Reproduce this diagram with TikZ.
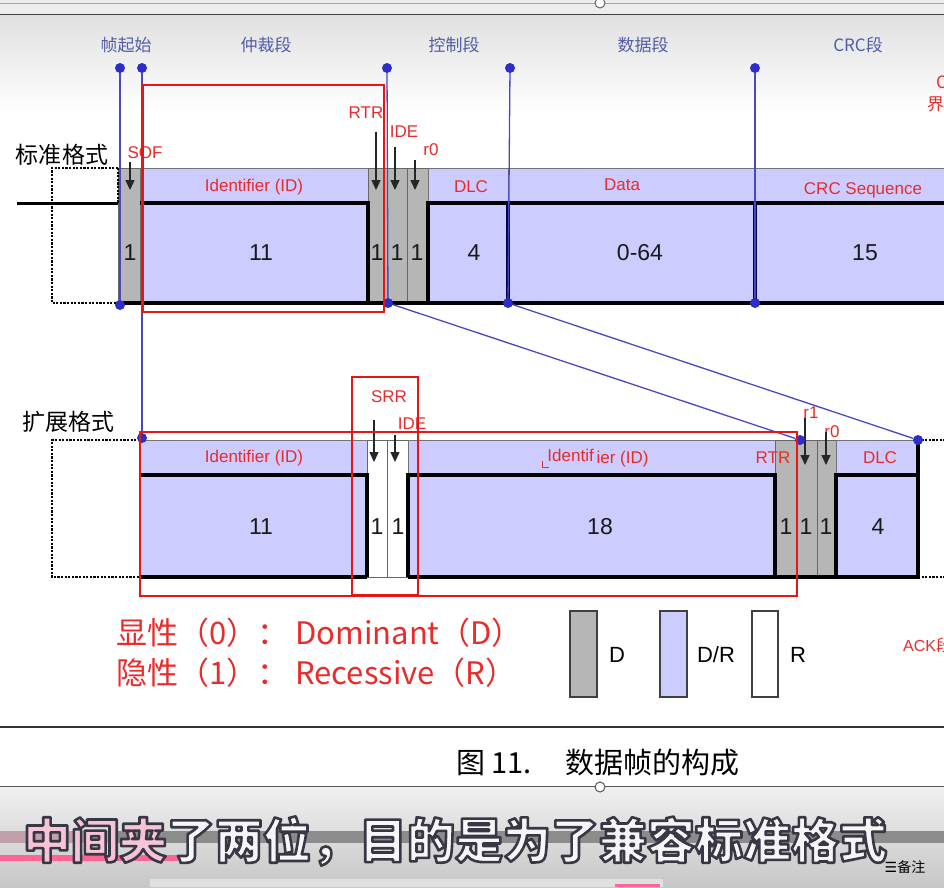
\documentclass[tikz,border=0pt]{standalone}
\usepackage{fontspec}
\setmainfont{Liberation Sans}
\newfontfamily\cjk{Noto Sans CJK SC}
\newfontfamily\djv{DejaVu Sans}
\usetikzlibrary{arrows.meta}
\newcommand\myfs[1]{\fontsize{#1}{#1}\selectfont}
\newcommand\strk{\special{pdf:literal direct 0.22 0.22 0.27 RG 2.6 w 1 j 2 Tr}}
\newcommand\unstrk{\special{pdf:literal direct 0 Tr}}
\definecolor{cellblue}{RGB}{204,204,255}
\definecolor{cellgray}{RGB}{182,182,182}
\definecolor{lineblue}{RGB}{72,72,196}
\definecolor{dotblue}{RGB}{45,45,200}
\definecolor{redtxt}{RGB}{232,44,44}
\definecolor{redbox}{RGB}{230,22,22}
\definecolor{seclbl}{RGB}{82,92,168}
\definecolor{subwhite}{RGB}{246,246,248}
\definecolor{subpink}{RGB}{246,196,214}
\definecolor{pinkbar}{RGB}{255,100,150}
\tikzset{
 cellb/.style={fill=cellblue, draw=black!55, line width=0.7pt},
 cellg/.style={fill=cellgray, draw=black!60, line width=0.7pt},
 cellw/.style={fill=white, draw=black!60, line width=0.7pt},
 wave/.style={line width=3.6pt, draw=black},
 navy/.style={line width=3.4pt, draw=black!70!blue},
 dotbox/.style={line width=2.8pt, draw=black, dash pattern=on 2.2pt off 1.4pt},
 bline/.style={draw=lineblue, line width=1.3pt},
 bdot/.style={circle, fill=dotblue, inner sep=0pt, minimum size=10pt},
 rlab/.style={text=redtxt, font=\myfs{17}, inner sep=0pt},
 nlab/.style={text=black!90, font=\myfs{23}, inner sep=0pt},
 slab/.style={text=seclbl, font=\cjk\myfs{17}, inner sep=0pt},
 ptr/.style={-{Triangle[length=10pt,width=9pt]}, line width=1.4pt, draw=black!85},
 rbox/.style={draw=redbox, line width=2.2pt},
 lgbox/.style={line width=2pt, draw=black!75},
}
\begin{document}
\begin{tikzpicture}[x=1pt,y=-1pt]
\useasboundingbox (0,0) rectangle (944,887);
\clip (0,0) rectangle (944,887);
% ---------- background ----------
\fill[white] (0,0) rectangle (944,887);
\fill[black!7] (0,0) rectangle (944,14);
\draw[black!35, line width=0.6pt] (0,3) -- (944,3);
\shade[top color=black!12, bottom color=white] (0,15) rectangle (944,112);
\draw[black!75, line width=1.6pt] (0,14.5) -- (944,14.5);
\node[circle, draw=black!60, fill=white, minimum size=10pt, inner sep=0pt, line width=1pt] (topknob) at (600,3) {};

% ---------- section labels ----------
\node[slab] (sec1) at (126,45) {帧起始};
\node[slab] (sec2) at (266,45) {仲裁段};
\node[slab] (sec3) at (454,45) {控制段};
\node[slab] (sec4) at (643,45) {数据段};
\node[slab] (sec5) at (858,45) {CRC段};
\node[text=redtxt, font=\cjk\myfs{17}, anchor=west, inner sep=0pt] (edgeC) at (936,82) {C};
\node[text=redtxt, font=\cjk\myfs{17}, anchor=west, inner sep=0pt] (edgeJ) at (927,104) {界};

% ---------- standard format ----------
\node[font=\cjk\myfs{23}, inner sep=0pt] (stdlbl) at (62,155) {标准格式};
\draw[cellg] (118,168) rectangle (140,303);
\draw[cellb] (140,168) rectangle (368,303);
\draw[cellg] (368,168) rectangle (387,303);
\draw[cellg] (387,168) rectangle (407,303);
\draw[cellg] (407,168) rectangle (428,303);
\draw[cellb] (428,168) rectangle (508,303);
\draw[cellb] (508,168) rectangle (755,303);
\draw[cellb] (755,168) rectangle (960,303);
\draw[dotbox] (118,168) -- (52,168) -- (52,303) -- (118,303);
\draw[dotbox] (118,168) -- (118,203);
\draw[line width=3pt] (17,203) -- (118,203);
\draw[wave] (118,303) -- (960,303);
\draw[wave] (140,203) -- (368,203) -- (368,303);
\draw[wave] (428,303) -- (428,203) -- (960,203);
\draw[navy] (508,203) -- (508,303);
\draw[navy] (755,203) -- (755,303);

\node[rlab] (sSOF) at (145,153) {SOF};
\node[rlab] (sRTR) at (366,113) {RTR};
\node[rlab] (sIDE) at (404,132) {IDE};
\node[rlab] (sr0) at (431,150) {r0};
\node[rlab] (sID) at (254,187) {Identifier (ID)};
\node[rlab] (sDLC) at (471,187) {DLC};
\node[rlab] (sData) at (622,185) {Data};
\node[rlab] (sCRC) at (863,190) {CRC Sequence};
\node[nlab] (n1) at (130,253) {1};
\node[nlab] (n2) at (261,253) {11};
\node[nlab] (n3) at (377,253) {1};
\node[nlab] (n4) at (397,253) {1};
\node[nlab] (n5) at (417,253) {1};
\node[nlab] (n6) at (474,253) {4};
\node[nlab] (n7) at (640,253) {0-64};
\node[nlab] (n8) at (865,253) {15};

\coordinate (pa1) at (130,162); \coordinate (pb1) at (130,190);
\coordinate (pa2) at (376,132); \coordinate (pb2) at (376,190);
\coordinate (pa3) at (395,147); \coordinate (pb3) at (395,190);
\coordinate (pa4) at (415,160); \coordinate (pb4) at (415,190);
\draw[ptr] (pa1) -- (pb1);
\draw[ptr] (pa2) -- (pb2);
\draw[ptr] (pa3) -- (pb3);
\draw[ptr] (pa4) -- (pb4);

% ---------- extended format ----------
\node[font=\cjk\myfs{23}, inner sep=0pt] (extlbl) at (68,422) {扩展格式};
\draw[cellb] (140,440) rectangle (367,577);
\draw[cellw] (367,440) rectangle (387,577);
\draw[cellw] (387,440) rectangle (408,577);
\draw[cellb] (408,440) rectangle (775,577);
\draw[cellg] (775,440) rectangle (797,577);
\draw[cellg] (797,440) rectangle (817,577);
\draw[cellg] (817,440) rectangle (836,577);
\draw[cellb] (836,440) rectangle (918,577);
\draw[dotbox] (140,440) -- (52,440) -- (52,577) -- (140,577);
\draw[dotbox] (918,440) -- (960,440);
\draw[dotbox] (918,577) -- (960,577);
\draw[wave] (140,475) -- (367,475) -- (367,577);
\draw[wave] (140,577) -- (367,577);
\draw[wave] (408,577) -- (408,475) -- (775,475) -- (775,577);
\draw[wave] (408,577) -- (918,577);
\draw[wave] (836,577) -- (836,475) -- (918,475);
\draw[wave] (918,440) -- (918,579);

\node[rlab] (eSRR) at (389,397) {SRR};
\node[rlab] (eIDE) at (412,424) {IDE};
\node[rlab] (eID1) at (254,458) {Identifier (ID)};
\node[rlab] (eID2) at (598,458) {Identif\,\raisebox{-2pt}{ier (ID)}};
\draw[redtxt, line width=1pt] (542,461) -- (542,467) -- (549,467);
\node[rlab] (eRTR) at (773,458) {RTR};
\node[rlab] (er1) at (811,413) {r1};
\node[rlab] (er0) at (832,432) {r0};
\node[rlab] (eDLC) at (880,458) {DLC};
\node[nlab] (m1) at (261,527) {11};
\node[nlab] (m2) at (377,527) {1};
\node[nlab] (m3) at (398,527) {1};
\node[nlab] (m4) at (600,527) {18};
\node[nlab] (m5) at (786,527) {1};
\node[nlab] (m6) at (806,527) {1};
\node[nlab] (m7) at (826,527) {1};
\node[nlab] (m8) at (878,527) {4};

\coordinate (qa1) at (374,420); \coordinate (qb1) at (374,462);
\coordinate (qa2) at (395,435); \coordinate (qb2) at (395,462);
\coordinate (qa3) at (805,418); \coordinate (qb3) at (805,465);
\coordinate (qa4) at (826,432); \coordinate (qb4) at (826,465);
\draw[ptr] (qa1) -- (qb1);
\draw[ptr] (qa2) -- (qb2);
\draw[ptr] (qa3) -- (qb3);
\draw[ptr] (qa4) -- (qb4);

% ---------- blue guide lines ----------
\node[bdot] (t1) at (120,68) {};
\node[bdot] (t2) at (142,68) {};
\node[bdot] (t3) at (387,68) {};
\node[bdot] (t4) at (510,68) {};
\node[bdot] (t5) at (755,68) {};
\node[bdot] (b1) at (120,305) {};
\node[bdot] (b3) at (388,303) {};
\node[bdot] (b4) at (508,303) {};
\node[bdot] (b5) at (755,303) {};
\node[bdot] (e2) at (142,438) {};
\node[bdot] (e3) at (800,440) {};
\node[bdot] (e4) at (918,440) {};
\draw[bline] (t1) -- (b1);
\draw[bline] (t2) -- (e2);
\draw[bline] (t3) -- (b3);
\draw[bline] (t4) -- (b4);
\draw[bline] (t5) -- (b5);
\draw[bline] (b3) -- (e3);
\draw[bline] (b4) -- (e4);

% ---------- red highlight boxes ----------
\draw[rbox] (143,85) rectangle (384,312);
\draw[rbox] (140,432) rectangle (797,596);
\draw[rbox] (352,377) rectangle (418,595);

% ---------- legend ----------
\node[text=redtxt, font=\cjk\myfs{31}, anchor=west, inner sep=0pt] (lg1) at (116,633) {显性（0）： Dominant（D）};
\node[text=redtxt, font=\cjk\myfs{31}, anchor=west, inner sep=0pt] (lg2) at (116,673) {隐性（1）： Recessive（R）};
\draw[lgbox, fill=cellgray] (570,611) rectangle (597,697);
\draw[lgbox, fill=cellblue] (660,611) rectangle (687,697);
\draw[lgbox, fill=white] (752,611) rectangle (778,697);
\node[font=\myfs{22}, inner sep=0pt] (lgD) at (617,655) {D};
\node[font=\myfs{22}, inner sep=0pt] (lgDR) at (716,655) {D/R};
\node[font=\myfs{22}, inner sep=0pt] (lgR) at (798,655) {R};
\node[text=redtxt, font=\myfs{16}, anchor=west, inner sep=0pt] (ack) at (903,645) {ACK\cjk 段};

% ---------- caption ----------
\draw[black!80, line width=1.6pt] (0,727) -- (944,727);
\node[font=\cjk\myfs{29}, anchor=west, inner sep=0pt] (cap) at (456,763) {图 11.\hspace{34pt}数据帧的构成};
\shade[top color=black!6, bottom color=black!22] (0,787) rectangle (944,887);
\draw[black!65, line width=1pt] (0,786) -- (944,786);
\node[circle, draw=black!65, fill=white, minimum size=10pt, inner sep=0pt, line width=1pt] (botknob) at (600,787) {};

% ---------- subtitle bar ----------
\fill[black!45] (0,831) rectangle (944,843);
\fill[pinkbar!45!black!45] (0,831) rectangle (110,843);
\fill[black!12] (150,879) rectangle (663,887);
\fill[pinkbar] (615,884) rectangle (660,887);
\fill[pinkbar] (0,855) rectangle (178,861);
\node[font=\cjk\bfseries\myfs{48}, inner sep=0pt] (subt) at (455,841)
 {\color{subpink}\strk 中间夹\color{subwhite}\strk 了两位，目的是为了兼容标准格式\unstrk};
\node[font=\myfs{14}, inner sep=0pt] (note) at (905,867) {{\djv ☰}{\cjk 备注}};
\end{tikzpicture}
\end{document}
